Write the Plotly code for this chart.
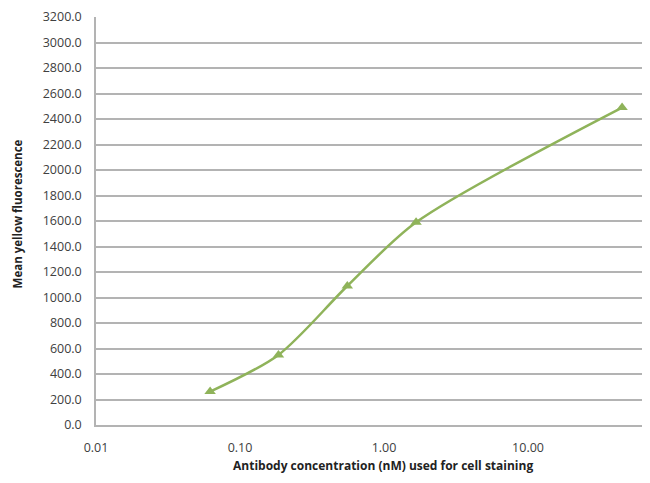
import plotly.graph_objects as go

# antibody concentration (nM) and mean yellow fluorescence
concentration = [0.062, 0.185, 0.556, 1.67, 45.0]
fluorescence = [262.0, 550.0, 1090.0, 1590.0, 2490.0]

x_ticks = [0.01, 0.1, 1, 10]
x_tick_labels = ["0.01", "0.10", "1.00", "10.00"]

x_title = "Antibody concentration (nM) used for cell staining"
y_title = "Mean yellow fluorescence"

line_green = "#8FB35A"
grid_gray = "#B3B3B3"
text_gray = "#404040"
font_family = "Open Sans, Liberation Sans, sans-serif"

fig = go.Figure(
    go.Scatter(
        x=concentration,
        y=fluorescence,
        mode="lines+markers",
        line=dict(color=line_green, width=2.5, shape="spline", smoothing=0.8),
        marker=dict(symbol="triangle-up", size=10, color=line_green),
        showlegend=False,
    )
)

fig.update_xaxes(
    type="log",
    range=[-2, 1.847],
    tickvals=x_ticks,
    ticktext=x_tick_labels,
    showgrid=False,
    showline=True,
    linecolor=grid_gray,
    linewidth=1.5,
    ticks="outside",
    ticklen=10,
    tickcolor="rgba(0,0,0,0)",
    tickfont=dict(size=12.5, color=text_gray),
    automargin=False,
)
fig.update_yaxes(
    range=[0, 3200],
    dtick=200,
    tickformat=".1f",
    showgrid=True,
    gridcolor=grid_gray,
    gridwidth=1.5,
    showline=True,
    linecolor=grid_gray,
    linewidth=1.5,
    zeroline=False,
    ticks="outside",
    ticklen=10,
    tickcolor="rgba(0,0,0,0)",
    tickfont=dict(size=12.5, color=text_gray),
    automargin=False,
)

# axis titles placed by hand so the plot area stays fixed
fig.add_annotation(
    text=f"<b>{x_title}</b>", xref="paper", yref="paper",
    x=0.518, y=-0.1, xanchor="center", yanchor="middle",
    showarrow=False, font=dict(size=12, color="#222222"),
)
fig.add_annotation(
    text=f"<b>{y_title}</b>", xref="paper", yref="paper",
    x=-0.142, y=0.517, xanchor="center", yanchor="middle", textangle=-90,
    showarrow=False, font=dict(size=11.5, color="#222222"),
)

# page body has an 8px margin, so the figure is shrunk by that much
fig.update_layout(
    width=642,
    height=475,
    margin=dict(l=88, r=0, t=9, b=58),
    paper_bgcolor="white",
    plot_bgcolor="white",
    font=dict(family=font_family, color=text_gray),
)

fig.write_html("out.html")
